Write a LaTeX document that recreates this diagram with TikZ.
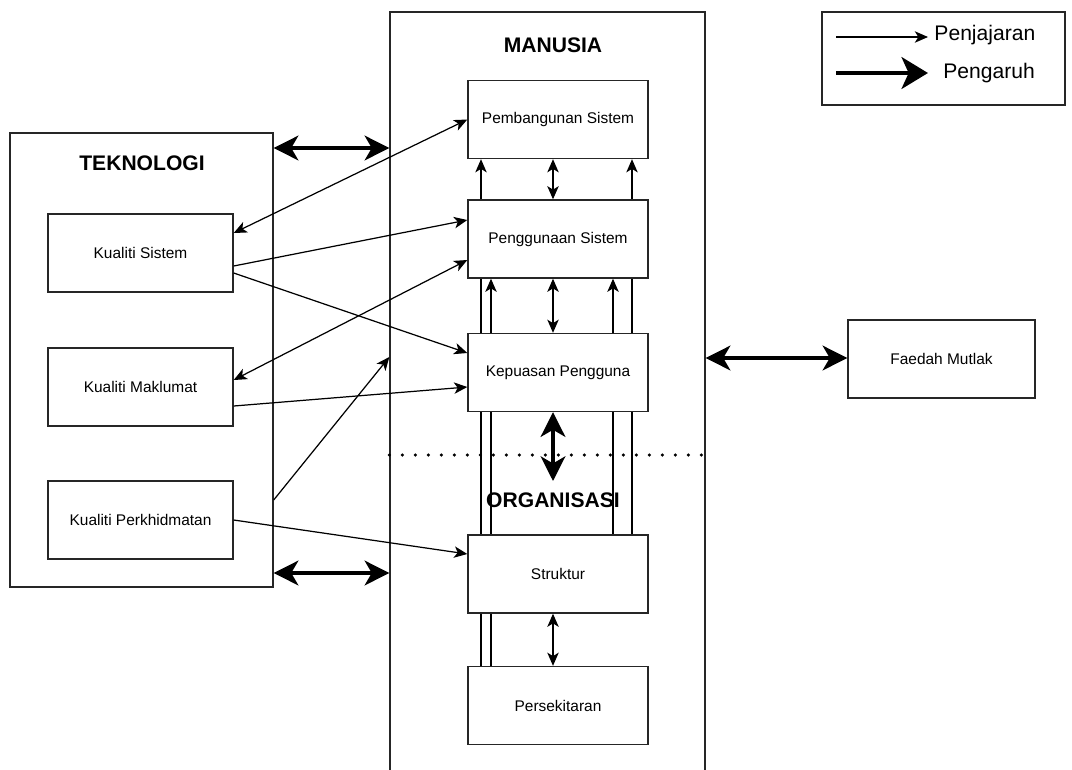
\documentclass[tikz,border=0pt]{standalone}
\usepackage{fontspec}
\setmainfont{Liberation Sans}
\usetikzlibrary{arrows.meta, backgrounds}

\tikzset{
  kumpulan/.style={draw=black!85, line width=0.8pt, inner sep=0pt},
  kotak/.style={draw=black!85, line width=0.8pt, fill=white, inner sep=0pt,
    minimum width=3.6cm, minimum height=1.56cm, font=\fontsize{8.8}{10}\selectfont},
  tajuk/.style={font=\fontsize{12}{14}\selectfont\bfseries},
  label/.style={font=\fontsize{12}{14}\selectfont},
  jajar/.style={line width=0.7pt, -{Stealth[length=7.5pt,width=6.5pt,inset=2pt]}},
  jajardua/.style={line width=0.7pt, {Stealth[length=7.5pt,width=6.5pt,inset=2pt]}-{Stealth[length=7.5pt,width=6.5pt,inset=2pt]}},
  pengaruh/.style={line width=2.2pt, {Stealth[length=14pt,width=14pt,inset=4pt]}-{Stealth[length=14pt,width=14pt,inset=4pt]}},
}

\begin{document}
\begin{tikzpicture}[x=0.02cm, y=-0.02cm]
	\useasboundingbox (0,0) rectangle (1072,769);
	
	% kumpulan besar
	\node[kumpulan, minimum width=5.26cm, minimum height=9.08cm] (tek) at (141.5,360) {};
	\node[kumpulan, minimum width=6.3cm, minimum height=15.9cm] (man) at (547.5,409.5) {};
	\node[tajuk] (ttek) at (142,163) {TEKNOLOGI};
	\node[tajuk] (tman) at (553,45) {MANUSIA};
	
	% teknologi
	\node[kotak, minimum width=3.7cm] (ks) at (140.5,253) {Kualiti Sistem};
	\node[kotak, minimum width=3.7cm] (km) at (140.5,387) {Kualiti Maklumat};
	\node[kotak, minimum width=3.7cm] (kp) at (140.5,520) {Kualiti Perkhidmatan};
	
	% manusia dan organisasi
	\node[kotak] (bina) at (558,119.5) {Pembangunan Sistem};
	\node[kotak] (guna) at (558,239) {Penggunaan Sistem};
	\node[kotak] (puas) at (558,372.5) {Kepuasan Pengguna};
	\node[kotak] (struk) at (558,574) {Struktur};
	\node[kotak] (sekitar) at (558,705.5) {Persekitaran};
	\node[tajuk] (torg) at (553,500) {ORGANISASI};
	
	\node[kotak, minimum width=3.74cm] (faedah) at (941.5,359) {Faedah Mutlak};
	
	% garisan menegak di belakang kotak
	\begin{scope}[on background layer]
		\draw[jajar] (sekitar.north -| 481,0) -- (bina.south -| 481,0);
		\draw[jajar] (sekitar.north -| 491,0) -- (guna.south -| 491,0);
		\draw[jajar] (struk.north -| 613,0) -- (guna.south -| 613,0);
		\draw[jajar] (struk.north -| 632,0) -- (bina.south -| 632,0);
	\end{scope}
	
	\begin{scope}[jajardua]
		\draw (guna.north -| 553,0) -- (bina.south -| 553,0);
		\draw (puas.north -| 553,0) -- (guna.south -| 553,0);
		\draw (sekitar.north -| 553,0) -- (struk.south -| 553,0);
	\end{scope}
	\draw[pengaruh] (puas.south -| 553,0) -- (553,481);
	
	% sempadan manusia / organisasi
	\draw[line width=2pt, line cap=round, dash pattern=on 0pt off 7.4pt] (man.west |- 0,455) -- (man.east |- 0,455);
	
	% penjajaran teknologi - manusia
	\draw[jajardua] (ks.east |- 0,233) -- (bina.west);
	\draw[jajar] (ks.east |- 0,266) -- (guna.west |- 0,220);
	\draw[jajar] (ks.east |- 0,273) -- (puas.west |- 0,353);
	\draw[jajardua] (km.east |- 0,380) -- (guna.west |- 0,260);
	\draw[jajar] (km.east |- 0,406) -- (puas.west |- 0,387);
	\draw[jajar] (kp.east |- 0,520) -- (struk.west |- 0,554);
	\draw[jajar] (tek.east |- 0,500) -- (man.west |- 0,357);
	
	% pengaruh
	\begin{scope}[pengaruh]
		\draw (tek.east |- 0,148) -- (man.west |- 0,148);
		\draw (tek.east |- 0,573) -- (man.west |- 0,573);
		\draw (man.east |- 0,358) -- (faedah.west |- 0,358);
	\end{scope}
	
	% petunjuk
	\node[kumpulan, minimum width=4.86cm, minimum height=1.86cm] (petunjuk) at (943.5,58.5) {};
	\coordinate (p1) at (836,37);
	\coordinate (p2) at (836,73);
	\draw[jajar] (p1) -- ++(92,0) node[label, right, yshift=1pt] {Penjajaran};
	\draw[line width=2.8pt, -{Stealth[length=15pt,width=18pt,inset=4pt]}] (p2) -- ++(92,0) node[label, right, xshift=4pt] {Pengaruh};
\end{tikzpicture}
\end{document}
